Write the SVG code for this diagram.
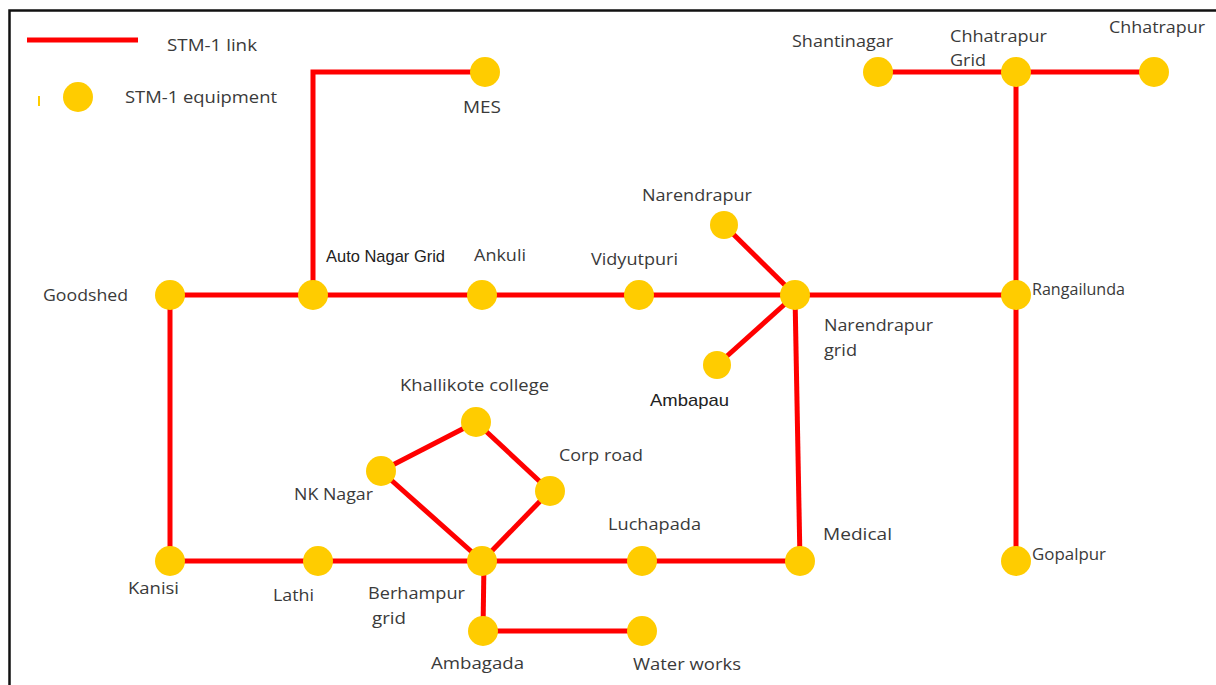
<svg xmlns="http://www.w3.org/2000/svg" width="1216" height="685" viewBox="0 0 1216 685">
<style>
.lk{stroke:#ff0000;stroke-width:5;fill:none;stroke-linecap:butt}
.nd{fill:#ffcc00}
.t{font-family:"Open Sans","Liberation Sans",sans-serif;font-size:17px;fill:#3a3a3a}
.a{font-family:"Liberation Sans",Arial,sans-serif;font-size:17px;fill:#222}
</style>
<rect width="1216" height="685" fill="#fff"/>
<path d="M9.5 685 V10.5 H1216" stroke="#111" stroke-width="2.5" fill="none"/>
<g id="legend">
<line x1="27" y1="40" x2="138" y2="40" class="lk"/>
<text class="t" x="167" y="51" textLength="90" lengthAdjust="spacingAndGlyphs">STM-1 link</text>
<rect x="38" y="96" width="2" height="10" fill="#ffcc00"/>
<circle cx="78" cy="97" r="15" class="nd"/>
<text class="t" x="125" y="103" textLength="152" lengthAdjust="spacingAndGlyphs">STM-1 equipment</text>
</g>
<g id="links">
<polyline class="lk" points="485,72 313,72 313,295"/>
<line class="lk" x1="170" y1="295" x2="1016" y2="295"/>
<line class="lk" x1="170" y1="295" x2="170" y2="561"/>
<line class="lk" x1="170" y1="561" x2="800" y2="561"/>
<line class="lk" x1="795" y1="295" x2="800" y2="561"/>
<line class="lk" x1="724" y1="225" x2="795" y2="295"/>
<line class="lk" x1="717" y1="365" x2="795" y2="295"/>
<line class="lk" x1="1016" y1="72" x2="1016" y2="561"/>
<line class="lk" x1="878" y1="72" x2="1154" y2="72"/>
<line class="lk" x1="381" y1="471" x2="476" y2="422"/>
<line class="lk" x1="476" y1="422" x2="550" y2="491"/>
<line class="lk" x1="550" y1="491" x2="482" y2="561"/>
<line class="lk" x1="381" y1="471" x2="482" y2="561"/>
<line class="lk" x1="484" y1="561" x2="483" y2="631"/>
<line class="lk" x1="483" y1="631" x2="642" y2="631"/>
</g>
<g id="mes"><circle class="nd" cx="485" cy="72" r="15"/><text class="t" x="463" y="113" textLength="38" lengthAdjust="spacingAndGlyphs">MES</text></g>
<g id="shantinagar"><circle class="nd" cx="878" cy="72" r="15"/><text class="t" x="792" y="47" textLength="101" lengthAdjust="spacingAndGlyphs">Shantinagar</text></g>
<g id="chhatrapur-grid"><circle class="nd" cx="1016" cy="72" r="15"/><text class="t" x="950" y="42" textLength="97" lengthAdjust="spacingAndGlyphs">Chhatrapur</text><text class="t" x="950" y="66" textLength="36" lengthAdjust="spacingAndGlyphs">Grid</text></g>
<g id="chhatrapur"><circle class="nd" cx="1154" cy="72" r="15"/><text class="t" x="1109" y="33" textLength="96" lengthAdjust="spacingAndGlyphs">Chhatrapur</text></g>
<g id="narendrapur"><circle class="nd" cx="724" cy="225" r="14"/><text class="t" x="642" y="201" textLength="110" lengthAdjust="spacingAndGlyphs">Narendrapur</text></g>
<g id="goodshed"><circle class="nd" cx="170" cy="295" r="15"/><text class="t" x="43" y="301" textLength="85" lengthAdjust="spacingAndGlyphs">Goodshed</text></g>
<g id="auto-nagar-grid"><circle class="nd" cx="313" cy="295" r="15"/><text class="a" x="326" y="262" textLength="119" lengthAdjust="spacingAndGlyphs">Auto Nagar Grid</text></g>
<g id="ankuli"><circle class="nd" cx="482" cy="295" r="15"/><text class="t" x="474" y="261" textLength="52" lengthAdjust="spacingAndGlyphs">Ankuli</text></g>
<g id="vidyutpuri"><circle class="nd" cx="639" cy="295" r="15"/><text class="t" x="591" y="265" textLength="87" lengthAdjust="spacingAndGlyphs">Vidyutpuri</text></g>
<g id="narendrapur-grid"><circle class="nd" cx="795" cy="295" r="15"/><text class="t" x="824" y="331" textLength="109" lengthAdjust="spacingAndGlyphs">Narendrapur</text><text class="t" x="824" y="356" textLength="33" lengthAdjust="spacingAndGlyphs">grid</text></g>
<g id="rangailunda"><circle class="nd" cx="1016" cy="295" r="15"/><text class="t" x="1032" y="295" textLength="93" lengthAdjust="spacingAndGlyphs">Rangailunda</text></g>
<g id="ambapau"><circle class="nd" cx="717" cy="365" r="14"/><text class="a" x="650" y="406" textLength="79" lengthAdjust="spacingAndGlyphs">Ambapau</text></g>
<g id="khallikote-college"><circle class="nd" cx="476" cy="422" r="15"/><text class="t" x="400" y="391" textLength="149" lengthAdjust="spacingAndGlyphs">Khallikote college</text></g>
<g id="nk-nagar"><circle class="nd" cx="381" cy="471" r="15"/><text class="t" x="294" y="500" textLength="79" lengthAdjust="spacingAndGlyphs">NK Nagar</text></g>
<g id="corp-road"><circle class="nd" cx="550" cy="491" r="15"/><text class="t" x="559" y="461" textLength="84" lengthAdjust="spacingAndGlyphs">Corp road</text></g>
<g id="kanisi"><circle class="nd" cx="170" cy="561" r="15"/><text class="t" x="128" y="594" textLength="51" lengthAdjust="spacingAndGlyphs">Kanisi</text></g>
<g id="lathi"><circle class="nd" cx="318" cy="561" r="15"/><text class="t" x="273" y="601" textLength="41" lengthAdjust="spacingAndGlyphs">Lathi</text></g>
<g id="berhampur-grid"><circle class="nd" cx="482" cy="561" r="15"/><text class="t" x="368" y="599" textLength="97" lengthAdjust="spacingAndGlyphs">Berhampur</text><text class="t" x="372" y="624" textLength="34" lengthAdjust="spacingAndGlyphs">grid</text></g>
<g id="luchapada"><circle class="nd" cx="642" cy="561" r="15"/><text class="t" x="608" y="530" textLength="93" lengthAdjust="spacingAndGlyphs">Luchapada</text></g>
<g id="medical"><circle class="nd" cx="800" cy="561" r="15"/><text class="t" x="823" y="540" textLength="69" lengthAdjust="spacingAndGlyphs">Medical</text></g>
<g id="gopalpur"><circle class="nd" cx="1016" cy="561" r="15"/><text class="t" x="1032" y="560" textLength="74" lengthAdjust="spacingAndGlyphs">Gopalpur</text></g>
<g id="ambagada"><circle class="nd" cx="483" cy="631" r="15"/><text class="t" x="431" y="669" textLength="93" lengthAdjust="spacingAndGlyphs">Ambagada</text></g>
<g id="water-works"><circle class="nd" cx="642" cy="631" r="15"/><text class="t" x="633" y="670" textLength="108" lengthAdjust="spacingAndGlyphs">Water works</text></g>
</svg>
